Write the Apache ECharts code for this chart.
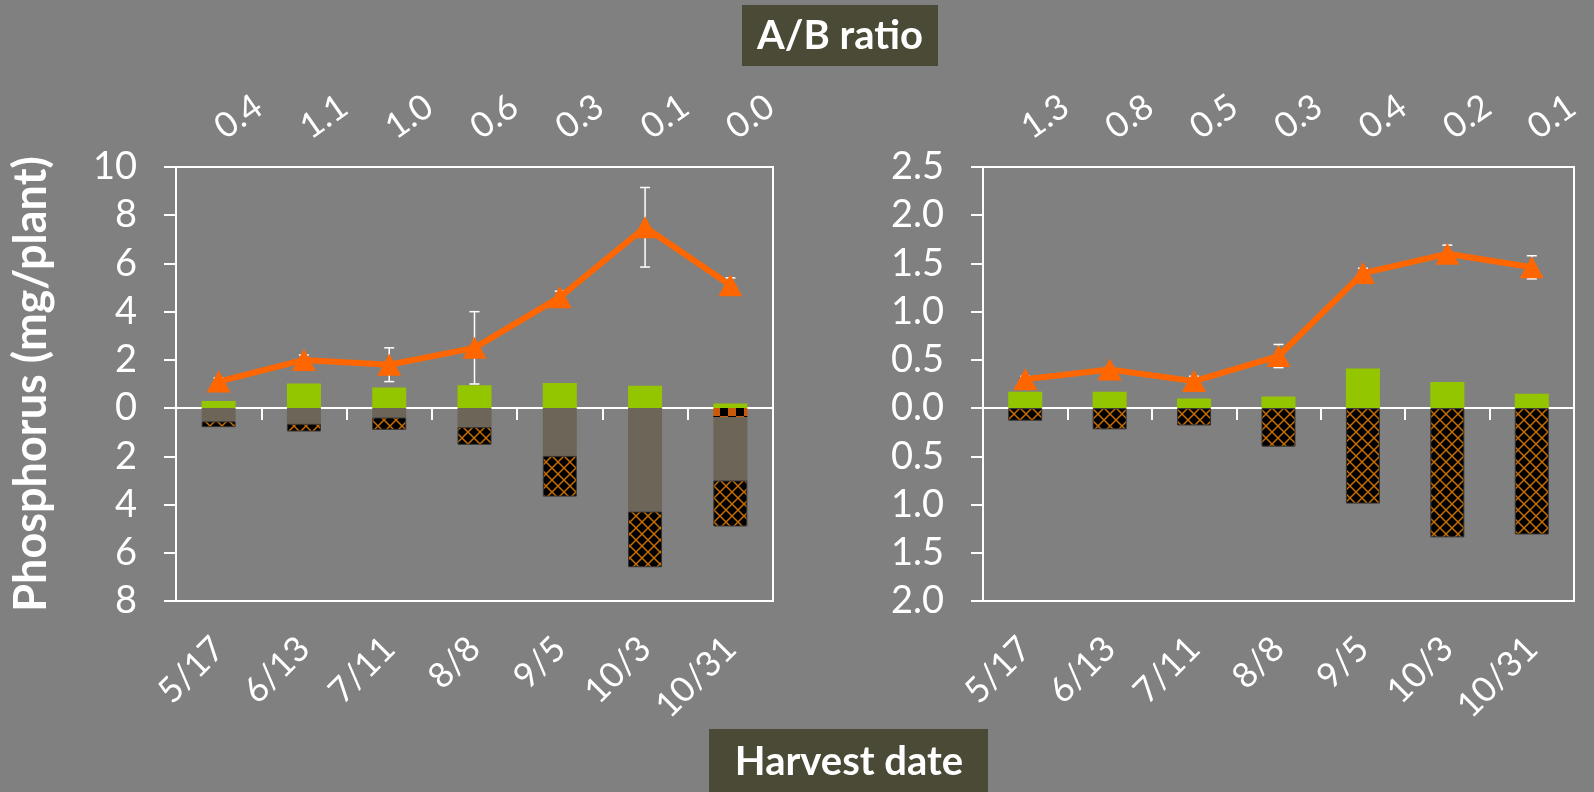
<!DOCTYPE html>
<html>
<head>
<meta charset="utf-8">
<script src="https://cdn.jsdelivr.net/npm/echarts@6/dist/echarts.min.js"></script>
<style>
  html, body { margin: 0; padding: 0; background: #808080; }
  #chart { width: 1594px; height: 792px; }
</style>
</head>
<body>
<div id="chart"></div>
<script>
// harvest dates (shared by both panels)
const dates = ['5/17', '6/13', '7/11', '8/8', '9/5', '10/3', '10/31']

// left panel
const ratioLeft = ['0.4', '1.1', '1.0', '0.6', '0.3', '0.1', '0.0']
const greenLeft = [0.29, 1.02, 0.86, 0.95, 1.04, 0.93, 0.19]
const checkLeft = [0, 0, 0, 0, 0, 0, -0.38]
const grayLeft = [-0.55, -0.65, -0.39, -0.79, -1.98, -4.29, -2.62]
const hatchLeft = [-0.24, -0.32, -0.51, -0.73, -1.69, -2.31, -1.91]
const lineLeft = [1.1, 2.0, 1.8, 2.5, 4.6, 7.5, 5.1]
const errLeft = [0.15, 0.2, 0.7, 1.5, 0.25, 1.65, 0.3]

// right panel
const ratioRight = ['1.3', '0.8', '0.5', '0.3', '0.4', '0.2', '0.1']
const greenRight = [0.17, 0.17, 0.10, 0.12, 0.41, 0.27, 0.15]
const hatchRight = [-0.13, -0.22, -0.18, -0.40, -0.99, -1.34, -1.31]
const lineRight = [0.30, 0.40, 0.28, 0.54, 1.40, 1.60, 1.46]
const errRight = [0.03, 0.02, 0.05, 0.12, 0.05, 0.09, 0.12]

const FONT = 'Lato'
const WHITE = '#ffffff'

// crosshatch pattern: black with orange diagonals
const makeHatch = () => {
  const c = document.createElement('canvas')
  c.width = 12; c.height = 12
  const g = c.getContext('2d')
  g.fillStyle = '#000'
  g.fillRect(0, 0, 12, 12)
  g.strokeStyle = '#c86e00'
  g.lineWidth = 1.5
  g.beginPath()
  g.moveTo(0, 0); g.lineTo(12, 12)
  g.moveTo(12, 0); g.lineTo(0, 12)
  g.stroke()
  return c
}

// checker pattern: orange / black squares
const makeChecker = () => {
  const c = document.createElement('canvas')
  c.width = 16; c.height = 16
  const g = c.getContext('2d')
  g.fillStyle = '#000'
  g.fillRect(0, 0, 16, 16)
  g.fillStyle = '#c85a0a'
  g.fillRect(0, 0, 8, 8)
  g.fillRect(8, 8, 8, 8)
  return c
}

const hatch = { image: makeHatch(), repeat: 'repeat' }
const checker = { image: makeChecker(), repeat: 'repeat' }

const grids = [
  { left: 176, top: 167, width: 597, height: 434 },
  { left: 983, top: 167, width: 591, height: 434 }
]

const xAxesFor = (gi, ratios) => [
  // bottom date labels
  {
    type: 'category', gridIndex: gi, data: dates, position: 'bottom',
    axisLine: { show: false, onZero: false },
    axisTick: { show: false },
    axisLabel: { interval: 0, rotate: 45, margin: 42, color: WHITE, fontFamily: FONT, fontSize: 35 }
  },
  // zero line with ticks
  {
    type: 'category', gridIndex: gi, data: dates, position: 'bottom',
    axisLine: { show: true, onZero: true, lineStyle: { color: WHITE, width: 2 } },
    axisTick: { show: true, length: 12, lineStyle: { color: WHITE, width: 2 } },
    axisLabel: { show: false }
  },
  // top ratio labels
  {
    type: 'category', gridIndex: gi, data: ratios, position: 'top',
    axisLine: { show: false },
    axisTick: { show: false },
    axisLabel: { interval: 0, rotate: -35, margin: 36, color: WHITE, fontFamily: FONT, fontSize: 35 }
  }
]

const yAxisFor = (gi, min, max, step, fmt, name) => ({
  type: 'value', gridIndex: gi, min: min, max: max, interval: step,
  name: name, nameLocation: 'middle', nameRotate: 90, nameGap: 122,
  nameTextStyle: { color: WHITE, fontFamily: FONT, fontSize: 45, fontWeight: 'bold' },
  axisLine: { show: true, lineStyle: { color: WHITE, width: 2 } },
  axisTick: { show: true, length: 12, lineStyle: { color: WHITE, width: 2 } },
  splitLine: { show: false },
  axisLabel: { margin: 39, color: WHITE, fontFamily: FONT, fontSize: 38, formatter: fmt }
})

const errorSeries = (xi, yi, vals, errs) => ({
  type: 'custom', xAxisIndex: xi, yAxisIndex: yi, z: 3,
  data: vals.map((v, i) => [i, v, errs[i]]),
  renderItem: (params, api) => {
    const i = api.value(0), v = api.value(1), e = api.value(2)
    const top = api.coord([i, v + e])
    const bot = api.coord([i, v - e])
    const style = { stroke: WHITE, lineWidth: 1.5 }
    return {
      type: 'group',
      children: [
        { type: 'line', shape: { x1: top[0], y1: top[1], x2: bot[0], y2: bot[1] }, style: style },
        { type: 'line', shape: { x1: top[0] - 5, y1: top[1], x2: top[0] + 5, y2: top[1] }, style: style },
        { type: 'line', shape: { x1: bot[0] - 5, y1: bot[1], x2: bot[0] + 5, y2: bot[1] }, style: style }
      ]
    }
  }
})

const barSeries = (xi, yi, stack, data, color, border) => ({
  type: 'bar', xAxisIndex: xi, yAxisIndex: yi, stack: stack, data: data,
  barWidth: 34, z: 2,
  itemStyle: { color: color, borderColor: border, borderWidth: border ? 1 : 0 }
})

const lineSeries = (xi, yi, data) => ({
  type: 'line', xAxisIndex: xi, yAxisIndex: yi, data: data, z: 5,
  symbol: 'triangle', symbolSize: [24, 22],
  lineStyle: { color: '#ff6600', width: 6 },
  itemStyle: { color: '#ff6600' }
})

const chart = echarts.init(document.getElementById('chart'), null, { renderer: 'canvas' })

chart.setOption({
  backgroundColor: '#808080',
  animation: false,
  grid: grids.map(g => Object.assign({ show: true, borderColor: WHITE, borderWidth: 2, backgroundColor: 'transparent' }, g)),
  xAxis: [...xAxesFor(0, ratioLeft), ...xAxesFor(1, ratioRight)],
  yAxis: [
    yAxisFor(0, -8, 10, 2, v => String(Math.abs(v)), 'Phosphorus (mg/plant)'),
    yAxisFor(1, -2, 2.5, 0.5, v => Math.abs(v).toFixed(1), '')
  ],
  series: [
    barSeries(0, 0, 'L', greenLeft, '#94c600', null),
    barSeries(0, 0, 'L', checkLeft, checker, null),
    barSeries(0, 0, 'L', grayLeft, '#6d6557', null),
    barSeries(0, 0, 'L', hatchLeft, hatch, '#333'),
    errorSeries(0, 0, lineLeft, errLeft),
    lineSeries(0, 0, lineLeft),

    barSeries(3, 1, 'R', greenRight, '#94c600', null),
    barSeries(3, 1, 'R', hatchRight, hatch, '#333'),
    errorSeries(3, 1, lineRight, errRight),
    lineSeries(3, 1, lineRight)
  ],
  graphic: [
    {
      type: 'group', left: 742, top: 5,
      children: [
        { type: 'rect', shape: { x: 0, y: 0, width: 196, height: 61 }, style: { fill: '#4a4a36' } },
        { type: 'text', x: 98, y: 31, style: { text: 'A/B ratio', fill: WHITE, font: 'bold 40px ' + FONT, align: 'center', verticalAlign: 'middle' } }
      ]
    },
    {
      type: 'group', left: 709, top: 729,
      children: [
        { type: 'rect', shape: { x: 0, y: 0, width: 279, height: 63 }, style: { fill: '#4a4a36' } },
        { type: 'text', x: 140, y: 33, style: { text: 'Harvest date', fill: WHITE, font: 'bold 40px ' + FONT, align: 'center', verticalAlign: 'middle' } }
      ]
    }
  ]
})
</script>
</body>
</html>
